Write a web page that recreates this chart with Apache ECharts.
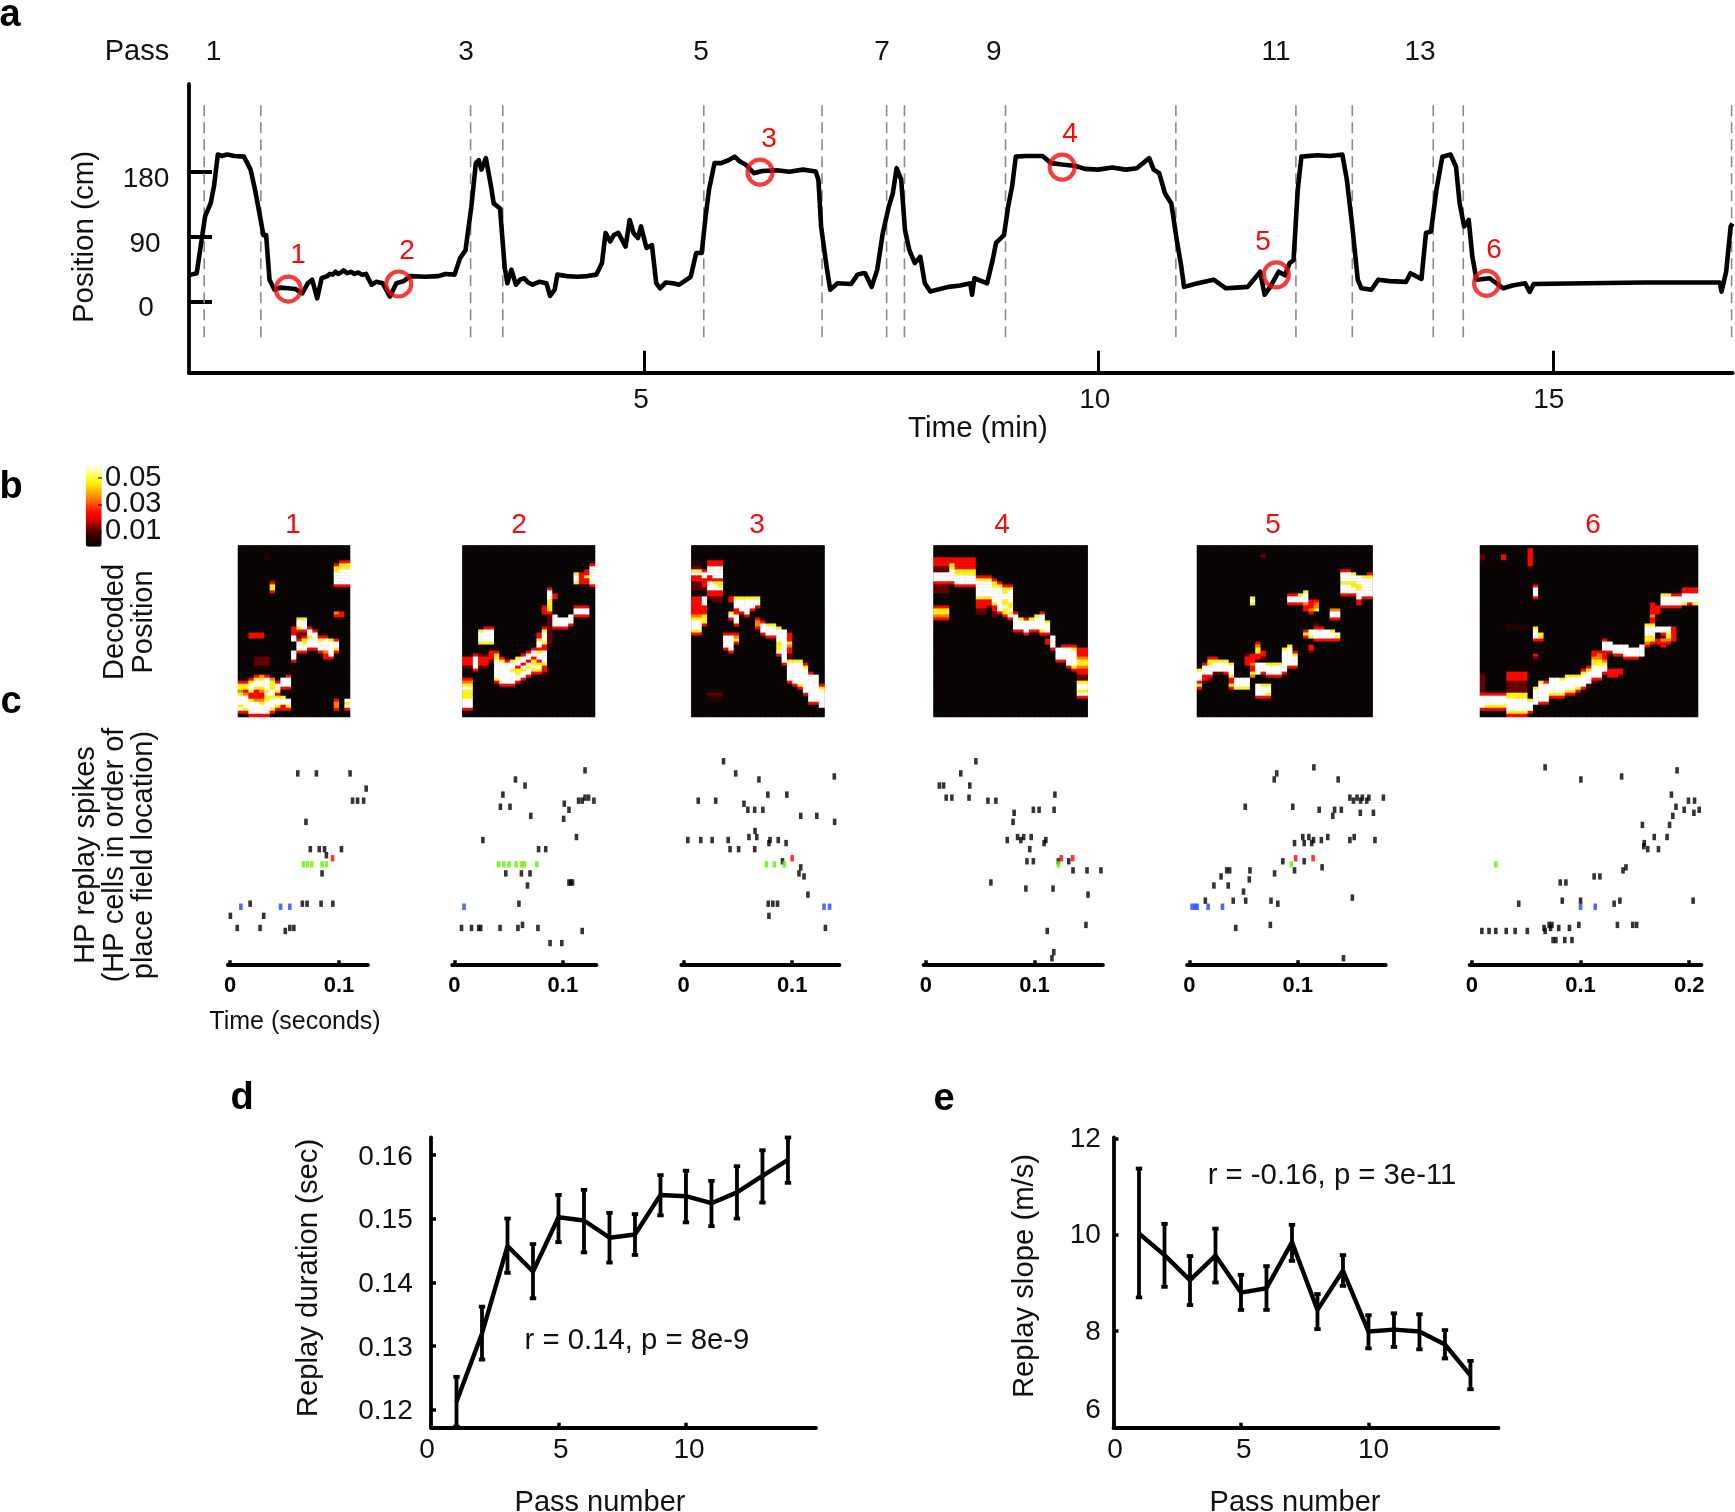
<!DOCTYPE html>
<html><head><meta charset="utf-8"><style>html,body{margin:0;background:#fff}#c{width:1735px;height:1512px}</style>
<script src="https://cdn.jsdelivr.net/npm/echarts@6/dist/echarts.min.js"></script></head><body><div id="c"></div>
<script>
// ---------- panel a data ----------
const positionTrace=[[0,36],[.024,37],[.085,39],[.128,76],[.177,118],[.238,136],[.275,160],[.317,204],[.36,202],[.42,204],[.5,202],[.604,201],[.677,183],[.726,155],[.775,122],[.818,92],[.848,92],[.885,30],[.94,16],[1.0,19],[1.09,18],[1.17,17],[1.245,11],[1.306,25],[1.354,30],[1.41,4],[1.458,32],[1.52,35],[1.55,38],[1.58,37],[1.61,41],[1.64,38],[1.67,40],[1.7,43],[1.74,39],[1.78,41],[1.82,38],[1.86,40],[1.9,37],[1.946,38],[2.007,23],[2.06,27],[2.13,25],[2.21,6.5],[2.28,25],[2.36,28],[2.434,35],[2.6,34],[2.74,35],[2.82,38],[2.92,37],[2.98,60],[3.04,71],[3.105,132],[3.154,192],[3.185,196],[3.215,183],[3.264,199],[3.32,160],[3.35,136],[3.42,129],[3.47,48],[3.5,25],[3.545,44],[3.594,23],[3.64,30],[3.685,32],[3.73,26],[3.777,23],[3.85,27],[3.93,25],[3.97,7.4],[4.02,16],[4.05,37],[4.15,35],[4.265,34],[4.38,35],[4.478,37],[4.54,53],[4.58,95],[4.63,83],[4.67,92],[4.72,95],[4.8,76],[4.845,113],[4.887,95],[4.936,88],[4.97,104],[5.03,74],[5.09,78],[5.137,25],[5.18,18],[5.24,26],[5.32,25],[5.39,23],[5.516,34],[5.576,67],[5.637,67],[5.68,118],[5.717,155],[5.778,192],[5.85,192],[5.93,196],[6.0,201],[6.06,194],[6.12,190],[6.21,178],[6.3,181],[6.46,182],[6.6,180],[6.75,183],[6.89,180.5],[6.92,169],[6.95,104],[7.01,48],[7.05,16],[7.13,25],[7.28,24],[7.35,37],[7.41,39],[7.433,39],[7.506,20],[7.567,44],[7.628,95],[7.695,132],[7.738,150],[7.78,185],[7.83,169],[7.872,99],[7.92,71],[7.98,53],[8.04,62],[8.09,25],[8.15,13.5],[8.35,20],[8.48,22],[8.59,25],[8.61,9],[8.635,32],[8.775,25],[8.836,57.5],[8.873,81],[8.96,92],[9.007,132],[9.05,160],[9.09,201],[9.2,202],[9.385,202],[9.477,192],[9.6,190],[9.75,188],[9.85,184],[9.996,183],[10.15,186],[10.3,183],[10.42,185],[10.557,199],[10.606,183],[10.667,178],[10.73,150],[10.8,136],[10.86,85],[10.91,48],[10.94,20],[11.09,25],[11.265,30],[11.4,18],[11.52,19],[11.64,20],[11.777,41],[11.826,9],[11.887,20],[11.98,41],[12.05,36],[12.1,53],[12.144,57],[12.19,155],[12.23,201],[12.4,203],[12.55,202],[12.68,204],[12.73,169],[12.79,104],[12.85,30],[12.89,18],[13.0,16],[13.077,30],[13.2,28],[13.38,27],[13.43,39],[13.55,31],[13.6,95],[13.655,97],[13.715,155],[13.78,201],[13.87,204],[13.93,187],[13.97,136],[14.02,104],[14.07,113],[14.11,62],[14.155,30],[14.3,32],[14.45,18],[14.55,22],[14.69,25],[14.74,13],[14.785,24],[15.365,25],[16,26],[16.83,26],[16.85,13.5],[16.9,41],[16.95,104],[16.97,108]];
const passBoundaries=[.167,.79,3.096,3.45,5.66,6.96,7.67,7.866,8.977,10.85,12.17,12.79,13.68,14.01,16.96];
const eventMarks=[[1.092,17],[2.306,24],[6.278,179.6],[9.6,186.5],[11.954,36.7],[14.266,25]];
const passLabels=['1','3','5','7','9','11','13'];
const eventLabels=['1','2','3','4','5','6'];
const posTicks=[0,90,180];
const timeTicks=[5,10,15];
// ---------- panel b: decoded position, runs of [column, first row, levels] ----------
const heat1=[[5,3,'kk'],[6,12,'ryyr'],[2,29,'rr'],[3,29,'rr'],[4,29,'rr'],[3,37,'dddk'],[4,37,'dddk'],[5,37,'dddk'],
[0,45,'ryyoywwwywr'],[1,45,'ryyrowwwwyr'],[2,44,'rywwyrrywwwwr'],[3,43,'rywwyrrrowwwwr'],[4,43,'oywwyorroywwwr'],[5,43,'rwwwwywyywwwwr'],[6,44,'oyyywwywwwyr'],[7,45,'rwwyrywwyr'],[8,44,'wwwr..ywwrr'],[9,43,'rwwwr...wwyr'],
[10,27,'rrrww...wwwr'],[11,24,'ywwyrddrwwwr'],[12,24,'ywwwrdryywwr'],[13,27,'rwwywwwr'],[14,28,'rwwwwwr'],[15,30,'rywwwr'],[16,30,'rwwwwww'],[16,35,'orr'],[17,31,'ywwwwwr'],[18,31,'rwwyr'],
[18,6,'ryywwwwr'],[19,5,'ryywwwwwr'],[20,5,'ryywwwwwr'],[18,22,'or'],[19,22,'rr'],[18,51,'roor'],[20,51,'wywr']];
const heat2=[[0,37,'rrrd'],[1,37,'rrrd'],[0,44,'roywyyywwwr'],[1,44,'roywyyywwwr'],[2,36,'rwwwwr'],[3,36,'drrrd'],[3,28,'ywwwy'],[4,27,'rwwwwy'],[4,36,'drrrd'],[5,27,'rwwwwy'],[5,35,'rrrd'],[6,35,'ryywwwwwwyr'],[7,37,'rywwwwwwwr'],[8,38,'rwwwwwwwr'],[9,38,'ywwywwwwr'],[10,37,'ywwryywwr'],[11,36,'rwwrwywwr'],[12,35,'rwwrwywwr'],[13,34,'rwwryywyr'],[14,29,'rrywwr'],[14,35,'ywwrywyr'],[15,20,'rrr'],[15,27,'rywwwyrrwwwwyrrd'],[16,14,'rwwwyyyyr'],[16,23,'ddddddddddk'],[17,16,'rr'],[17,23,'wwwwr'],[18,24,'wwwr'],[19,24,'wwwr'],[20,23,'wwwr'],[21,20,'rwwr'],[21,9,'ywwy'],[22,20,'rwwr'],[22,9,'rrrr'],[23,20,'rwwr'],[23,8,'rryrr'],[24,6,'rwwwwwwr']];
const heat3=[[0,5,'kkd'],[0,8,'ywrrddd'],[0,17,'rrrrrroywwwyr'],[1,5,'kkd'],[1,8,'ywrrddd'],[1,17,'rrrrrroywwwyr'],[2,8,'rwwrrrd'],[2,17,'wwwrrr'],[2,23,'yyyr'],[3,5,'rrwwwrrwwwrrd'],[4,5,'rrwwwwrywwrrdd'],[5,5,'rrwwwwryywrrdd'],[6,29,'rwwwwr'],[7,17,'rr'],[7,22,'ywr'],[7,29,'rwwwwwr'],[8,17,'ywwwrrwwwr'],[8,29,'royr'],[9,17,'ywwwwr'],[10,17,'ywwwwwr'],[11,17,'ywwwr'],[12,17,'ywwr'],[12,24,'roor'],[13,25,'rwwwr'],[14,26,'ywwwr'],[15,26,'ywwwr'],[16,27,'ywwwwyyywr'],[17,28,'wwwwwwwwwwwr'],[18,29,'rrryorrddd'],[18,38,'ywwwwwwr'],[19,38,'ywwwwwwwr'],[20,38,'ywwwwwwwyr'],[21,39,'rywwwwwwwwr'],[22,42,'rwwwwwwwwwr'],[23,43,'wwwwwwwwwr'],[24,46,'rywwwwww'],[3,48,'kdkk'],[4,48,'kdkk'],[5,48,'kdkk']];
const heat4=[[0,4,'rrrddwwwrddd'],[1,4,'rrrddwwwrddd'],[2,4,'rrrddwwwrddd'],[0,20,'ryyor'],[1,20,'ryyor'],[2,20,'ryyor'],[3,4,'rryywwwwr'],[4,4,'rrrryywwwr'],[5,4,'rrrryywwwr'],[6,4,'rrrryywwwr'],[7,4,'rrrryywwwr'],[8,10,'rywwwwwyrrd'],[8,18,'rrrdd'],[9,10,'rywwwwwyrrd'],[9,18,'rrrdd'],[10,10,'rywwwwwyrrd'],[11,11,'ryywwwwwyrrdd'],[12,12,'rywwwwwwwwr'],[13,13,'ryywwyywyyr'],[14,13,'rywwwwyywywr'],[15,22,'rwwwwwr'],[16,24,'ywwwr'],[17,24,'rwwwwr'],[18,24,'ywwwr'],[19,23,'ywwwwr'],[20,22,'rwwwwwyr'],[21,25,'ywwwr'],[21,31,'rr'],[22,30,'wwwwr'],[23,34,'wwwwr'],[24,33,'rwwwwr'],[25,33,'rwwwwwwr'],[26,33,'rywwwwwyr'],[27,34,'rrroyyorrdd'],[27,45,'ywwywr'],[28,34,'rrroyyorrdd'],[28,45,'ywwywr']];
const heat5=[[12,3,'dk'],[0,41,'ywwwryr'],[1,39,'rwwwrrd'],[2,37,'ryywwwrd'],[3,37,'rywwwd'],[4,38,'ywwwd'],[5,38,'ywwwr'],[6,39,'ywwwy'],[6,44,'rryr'],[7,44,'wwwy'],[8,44,'wwwy'],[9,44,'wwwy'],[9,36,'drrr'],[10,36,'rrrorryo'],[10,17,'ywy'],[11,32,'royyrr'],[11,39,'wwww'],[11,46,'wwwwr'],[12,35,'rrd'],[12,39,'wwwr'],[12,46,'ywwwr'],[13,39,'ywwwr'],[13,46,'ywwyr'],[14,39,'ywwwr'],[15,39,'ywwwr'],[16,34,'ywwwwwwwr'],[17,33,'ywwwwwwr'],[18,35,'rywwwr'],[17,16,'rwwr'],[18,16,'rwwr'],[19,16,'ywwr'],[20,15,'ywwwr'],[20,19,'orr'],[21,18,'rrror'],[22,18,'rooy'],[20,28,'ryr'],[21,28,'wwy'],[22,27,'rwwwr'],[23,27,'rwwwr'],[24,28,'wwwr'],[25,28,'ywwr'],[26,29,'wyr'],[21,33,'rrd'],[22,25,'kd'],[25,21,'owwr'],[26,21,'owwr'],[27,8,'rwwwywwwrk'],[28,8,'rwwwywwwrk'],[29,9,'ywwyywwr'],[30,10,'wwwyywwwrr'],[31,10,'ywwwwwwr'],[32,9,'rywwwwwwr']];
const heat6=[[0,3,'ddk'],[0,42,'kdddddd'],[0,49,'rwwwwr'],[1,49,'rwwwyr'],[2,49,'rwwwyr'],[3,49,'rwwwyr'],[4,3,'rr'],[4,49,'rwwwyr'],[5,26,'kk'],[5,42,'rrrddddyywwwwyr'],[6,26,'kk'],[6,42,'rrrddddyywwwwyr'],[7,26,'kk'],[7,42,'rrrddddyywwwwyr'],[8,26,'kk'],[8,42,'rrrddddyywwwwyr'],[9,1,'rrrrrrk'],[9,51,'ywwwr'],[10,13,'rwwwr'],[10,27,'ywwwr'],[10,36,'rd'],[10,47,'ywwwww'],[11,29,'yyr'],[11,45,'ywwwwwwr'],[12,45,'rwwwwwwr'],[13,44,'wwwwwyr'],[14,44,'wwwwwyr'],[15,44,'ywwwwyr'],[16,43,'ywwwwyr'],[17,43,'ywwwwyr'],[18,43,'ywwwyr'],[19,41,'rywwwwr'],[20,40,'rywwwwdk'],[21,35,'rroyywwwwrd'],[22,35,'rooyywwwwr'],[23,31,'rwwwrrroywwr'],[24,32,'wwwr'],[24,41,'rrr'],[25,33,'wwwr'],[25,41,'rrr'],[26,33,'wwwr'],[26,41,'rrd'],[27,33,'wwwwr'],[28,34,'wwwr'],[29,34,'wwwr'],[30,33,'wwww'],[31,26,'ywwwyyor'],[32,19,'rrrrorrd'],[32,26,'ywwwyyr'],[33,20,'rrr'],[33,27,'ww..rr'],[34,16,'ywwwr'],[34,27,'wwrdorr'],[35,16,'ywwwr'],[35,27,'wwyyor'],[36,16,'rwwwr'],[36,27,'rrrrr'],[37,16,'rwwwr'],[38,14,'rrwwwy'],[39,14,'rrwwwr'],[40,14,'rrwwwy']];
const levelValues={k:.006,d:.012,r:.024,o:.035,y:.047,w:.06};
const colourTicks=['0.05','0.03','0.01'];
// ---------- panel c: spikes as [seconds, cell] ----------
const r1Black=[[.0622,63],[.0793,63],[.1102,63],[.125,58],[.1125,54],[.1171,54],[.1227,54],[.0697,47],[.0737,38],[.0819,38],[.0868,38],[.1023,38],[.0885,36],[.0845,30],[.0664,20],[.0707,20],[.0836,20],[.0944,20],[.0184,20],[.0003,16],[.0309,16],[.0066,12],[.0276,12],[.0549,12],[.0586,12],[.0507,11]];
const r1Green=[[.0674,33],[.0711,33],[.075,33],[.0845,33],[.0885,33]];
const r1Red=[[.0941,35]];
const r1Blue=[[.0099,19],[.0464,19],[.0549,19]];
const r2Black=[[.1204,64],[.0563,61],[.0651,59],[.0447,56],[.0424,52],[.0513,52],[.0704,49],[.1013,53],[.1056,51],[.1007,48],[.1145,54],[.1178,54],[.1204,55],[.1237,55],[.1286,54],[.0263,41],[.1125,42],[.0776,38],[.0842,38],[.0474,30],[.0618,30],[.0697,30],[.0674,26],[.1056,27],[.1072,27],[.1089,27],[.0595,20],[.0066,12],[.0158,12],[.0224,12],[.0243,12],[.0421,12],[.0586,12],[.0628,13],[.077,12],[.1178,11],[.0882,7],[.099,7]];
const r2Green=[[.0408,33],[.0457,33],[.0503,33],[.0569,33],[.0622,33],[.0645,33],[.076,33]];
const r2Red=[];
const r2Blue=[[.0089,19]];
const r3Black=[[.0368,67],[.048,63],[.0694,61],[.1388,62],[.0776,56],[.0951,56],[.0135,54],[.0296,54],[.0556,53],[.0592,51],[.0655,51],[.073,51],[.1079,49],[.1227,49],[.1391,47],[.0658,44],[.0674,42],[.0602,42],[.0039,41],[.0158,41],[.0263,41],[.0411,41],[.0796,41],[.0786,40],[.0872,41],[.0944,40],[.0428,38],[.0507,38],[.0655,38],[.0911,34],[.1079,32],[.1063,30],[.1109,29],[.1145,23],[.078,20],[.0822,20],[.0865,20],[.0786,16],[.1306,12]];
const r3Green=[[.0763,33],[.0836,33],[.0928,33]];
const r3Red=[[.1,35]];
const r3Blue=[[.1293,19],[.1345,19]];
const r4Black=[[.0461,67],[.0322,63],[.0125,59],[.0164,59],[.0405,59],[.0188,55],[.024,55],[.0398,55],[.0572,54],[.0645,54],[.1188,56],[.099,51],[.1043,51],[.1181,51],[.0813,50],[.0803,47],[.075,41],[.0845,42],[.0901,42],[.0875,41],[.097,42],[.1105,41],[.1089,40],[.0957,38],[.0931,34],[.099,34],[.122,34],[.1316,34],[.1355,31],[.1484,31],[.1612,31],[.0599,27],[.0921,25],[.1171,25],[.1493,23],[.1474,13],[.1118,11],[.1178,4],[.1161,2]];
const r4Green=[[.122,33]];
const r4Red=[[.1247,35],[.1352,35]];
const r4Blue=[];
const r5Black=[[.1148,65],[.0806,63],[.0783,61],[.1372,61],[.148,55],[.1513,54],[.1546,55],[.1579,54],[.1595,55],[.1635,54],[.1655,55],[.1789,55],[.0516,52],[.0954,52],[.1197,51],[.1339,51],[.1401,51],[.1322,49],[.1576,50],[.1697,50],[.1046,42],[.1102,42],[.1145,41],[.1217,41],[.1276,42],[.148,41],[.152,42],[.1711,41],[.097,40],[.1059,40],[.1128,40],[.0862,34],[.1059,34],[.1224,32],[.0345,31],[.0372,31],[.0559,31],[.097,31],[.0786,30],[.0293,29],[.0553,28],[.0227,26],[.0359,26],[.05,24],[.0148,21],[.0405,21],[.052,21],[.0753,21],[.0816,20],[.1503,22],[.0428,12],[.0747,13],[.1421,2]];
const r5Green=[[.0941,33]];
const r5Red=[[.098,35],[.1141,35]];
const r5Blue=[[.0026,19],[.0053,19],[.0072,19],[.0174,19],[.0306,19]];
const r6Black=[[.0674,65],[.1003,61],[.1378,62],[.1888,64],[.1836,56],[.1993,54],[.2049,54],[.1878,52],[.1954,51],[.2092,51],[.2043,50],[.1849,49],[.1819,46],[.1569,46],[.1678,42],[.1796,42],[.1586,40],[.1582,39],[.1618,38],[.1717,38],[.1418,32],[.1391,31],[.1125,29],[.1178,29],[.0813,27],[.0865,27],[.0832,21],[.1,21],[.1362,21],[.1309,20],[.0431,20],[.2036,21],[.0984,13],[.1339,13],[.148,13],[.1516,13],[.0711,13],[.0737,13],[.0724,12],[.0664,12],[.0799,12],[.0898,12],[.0674,11],[.0092,11],[.0158,11],[.022,11],[.0316,11],[.0398,11],[.051,11],[.0747,8],[.0773,8],[.0855,8],[.0921,8]];
const r6Green=[[.022,33]];
const r6Red=[];
const r6Blue=[[.1,19],[.1135,19]];
// ---------- panels d, e ----------
const passNumbers=[1,2,3,4,5,6,7,8,9,10,11,12,13,14];
const durationMean=[.1213,.132,.1457,.1417,.1502,.1497,.147,.1475,.1537,.1535,.1524,.1541,.1567,.1592];
const durationHigh=[.1252,.1362,.15,.146,.1537,.1545,.1509,.1507,.1568,.1575,.1559,.1582,.1607,.1627];
const durationLow=[.1174,.1279,.1415,.1375,.1463,.1447,.1431,.1443,.1505,.1494,.1488,.15,.1525,.1556];
const slopeMean=[10.03,9.58,9.06,9.57,8.8,8.89,9.85,8.44,9.26,7.99,8.03,7.99,7.72,7.08];
const slopeHigh=[11.38,10.23,9.56,10.13,9.17,9.35,10.21,8.77,9.58,8.33,8.37,8.35,8.02,7.38];
const slopeLow=[8.7,8.92,8.54,9.01,8.44,8.44,9.46,8.04,8.94,7.64,7.67,7.62,7.43,6.79];
const durationTicks=[.12,.13,.14,.15,.16];
const slopeTicks=[8,10,12];
const passTicks=[0,5,10];

// ---------- layout ----------
const FONT='"Liberation Sans"', INK='#111', RED='#f40c0c';
const grids=[],xAxes=[],yAxes=[],series=[],graphics=[];
function T(text,x,y,size,o={}){graphics.push({type:'text',x:o.rot?x+1:x,y:o.rot?y:y+2,rotation:o.rot||0,silent:true,z:50,style:{text:String(text),fill:o.color||INK,align:o.align||'center',verticalAlign:'middle',font:(o.bold?'bold ':'')+size+'px '+FONT}});}
function addGrid(left,top,width,height,xa,ya,bg){grids.push(bg?{left,top,width,height,containLabel:false,show:true,backgroundColor:bg,borderWidth:0}:{left,top,width,height,containLabel:false,show:false});const i=grids.length-1;xAxes.push(Object.assign({gridIndex:i,splitLine:{show:false},animation:false},xa));yAxes.push(Object.assign({gridIndex:i,splitLine:{show:false},animation:false},ya));return i;}
function valAxis(min,max,ticks,o){return {type:'value',min,max,position:o.pos,axisLine:{show:true,onZero:false,lineStyle:{color:'#000',width:o.w||3.8}},
 axisTick:{show:true,inside:true,length:o.len,customValues:ticks,lineStyle:{color:'#000',width:o.tw||3.5}},
 axisLabel:o.size?{show:true,customValues:ticks,margin:o.margin,color:'#000',fontFamily:FONT,fontSize:o.size,fontWeight:'bold',formatter:o.fmt}:{show:false}};}

// panel a
const ga=addGrid(189,84,1543.5,288.7,valAxis(0,16.97,timeTicks,{pos:'bottom',len:22,w:4.2,tw:3}),valAxis(-99.3,302,posTicks,{pos:'left',len:23,tw:4}));
passBoundaries.forEach(t=>series.push({type:'line',xAxisIndex:ga,yAxisIndex:ga,showSymbol:false,silent:true,z:1,data:[[t,-50],[t,278]],lineStyle:{color:'#8a8a8a',width:1.6,type:[11,6]}}));
series.push({type:'line',xAxisIndex:ga,yAxisIndex:ga,showSymbol:false,silent:true,z:3,data:positionTrace,lineStyle:{color:'#000',width:4.6,join:'round'}});
series.push({type:'scatter',xAxisIndex:ga,yAxisIndex:ga,silent:true,z:5,symbol:'circle',symbolSize:25,data:eventMarks,itemStyle:{color:'rgba(0,0,0,0)',borderColor:RED,borderWidth:4.2}});
T('Pass',137,50,29);
[213.6,466,701,882,993.7,1276,1420].forEach((x,i)=>T(passLabels[i],x,50,28));
[[298,253],[407,249],[769,137],[1070,132],[1263,240],[1494,248]].forEach((p,i)=>T(eventLabels[i],p[0],p[1],28,{color:RED}));
[[146,306],[145,242],[146,177]].forEach((p,i)=>T(posTicks[i],p[0],p[1],28));
[641,1094.7,1548.7].forEach((x,i)=>T(timeTicks[i],x,398,28));
T('Time (min)',978,427,29.5);
T('Position (cm)',84,237,29.5,{rot:Math.PI/2});

// panel b heatmaps
function cells(list,nCols,nRows){const m=[];for(let c=0;c<nCols;c++){m.push(new Array(nRows).fill(.001));}
 list.forEach(([c,r,s])=>{[...s].forEach((ch,i)=>{if(levelValues[ch]&&r+i<nRows&&c<nCols)m[c][r+i]=levelValues[ch];});});
 const out=[];m.forEach((col,c)=>col.forEach((v,r)=>out.push([c,r,v])));return out;}
const heatSeries=[];
const seq=n=>Array.from({length:n},(_,i)=>i);
[[heat1,21,238,112],[heat2,25,462.5,132.5],[heat3,25,691.4,133],[heat4,29,933.6,154],[heat5,33,1197,175.5],[heat6,41,1480,218]].forEach(([h,nC,l,w],k)=>{
 const nR=57;
 const i=addGrid(l,545.5,w,171.5,{type:'category',show:false,data:seq(nC)},{type:'category',show:false,inverse:true,data:seq(nR)},'#070707');
 heatSeries.push(series.length);
 series.push({type:'heatmap',xAxisIndex:i,yAxisIndex:i,silent:true,progressive:0,data:cells(h,nC,nR),emphasis:{disabled:true}});
 T(String(k+1),[293,519,757,1002,1273,1593][k],523,28,{color:RED});
});
const colourStops=['#060606','#1c0303','#450000','#900000','#e00000','#ff0a00','#ff4000','#ff8000','#ffb000','#ffe800','#ffff30','#ffffa0','#ffffff'];
[476,502,529].forEach((y,i)=>T(colourTicks[i],105,y,29,{align:'left'}));
[478,505,532].forEach(y=>graphics.push({type:'line',silent:true,z:40,shape:{x1:98,y1:y,x2:102,y2:y},style:{stroke:'#000',lineWidth:1}}));
T('Decoded',113.5,622,29,{rot:Math.PI/2});
T('Position',142.5,622,29,{rot:Math.PI/2});

// panel c rasters
const rasterFmt=v=>v===0?'0':v.toFixed(1);
[[r1Black,r1Green,r1Red,r1Blue,227.9,367.9,-.002,.1266,[0,.1]],
 [r2Black,r2Green,r2Red,r2Blue,452.2,596.4,-.002,.1309,[0,.1]],
 [r3Black,r3Green,r3Red,r3Blue,681.4,839.3,-.002,.1434,[0,.1]],
 [r4Black,r4Green,r4Red,r4Blue,923.6,1102.9,-.002,.163,[0,.1]],
 [r5Black,r5Green,r5Red,r5Blue,1187.1,1385.7,-.002,.181,[0,.1]],
 [r6Black,r6Green,r6Red,r6Blue,1469.7,1701.4,-.002,.2112,[0,.1,.2]]].forEach(([b,g,r,bl,x0,x1,tmin,tmax,ticks])=>{
 const i=addGrid(x0,752.2,x1-x0,212.1,valAxis(tmin,tmax,ticks,{pos:'bottom',len:4,tw:3.5,size:22,margin:11,w:4,fmt:rasterFmt}),{type:'value',show:false,min:0,max:70});
 [[b,'#000'],[g,'#66f000'],[r,'#ff0000'],[bl,'#2244ff']].forEach(([d,color])=>{if(d.length)series.push({type:'scatter',xAxisIndex:i,yAxisIndex:i,silent:true,symbol:'rect',symbolSize:[3.6,6.4],data:d,itemStyle:{color}});});
});
T('Time (seconds)',295,1020,25);
T('HP replay spikes',85,855,29,{rot:Math.PI/2});
T('(HP cells in order of',114,855,29,{rot:Math.PI/2});
T('place field location)',143,855,29,{rot:Math.PI/2});

// panels d, e
function errRender(params,api){const x=api.value(0),a=api.coord([x,api.value(1)]),b=api.coord([x,api.value(2)]);
 const st={stroke:'#000',lineWidth:3.8};const c=3.2;
 return {type:'group',children:[{type:'line',shape:{x1:a[0],y1:a[1],x2:b[0],y2:b[1]},style:st},{type:'line',shape:{x1:a[0]-c,y1:a[1],x2:a[0]+c,y2:a[1]},style:st},{type:'line',shape:{x1:b[0]-c,y1:b[1],x2:b[0]+c,y2:b[1]},style:st}]};}
function panel(left,width,ymin,ymax,yTicks,mean,low,high){
 const i=addGrid(left,1137.3,width,290.4,valAxis(0,15.1,passTicks,{pos:'bottom',len:5}),valAxis(ymin,ymax,yTicks,{pos:'left',len:5}));
 series.push({type:'custom',xAxisIndex:i,yAxisIndex:i,silent:true,z:3,renderItem:errRender,encode:{x:0,y:[1,2]},data:passNumbers.map((p,k)=>[p,low[k],high[k]])});
 series.push({type:'line',xAxisIndex:i,yAxisIndex:i,silent:true,z:4,showSymbol:false,data:passNumbers.map((p,k)=>[p,mean[k]]),lineStyle:{color:'#000',width:4.4}});
}
panel(431,385,.11723,.16273,durationTicks,durationMean,durationLow,durationHigh);
panel(1113.5,385,5.99,12.03,slopeTicks,slopeMean,slopeLow,slopeHigh);
[1409,1346,1282,1218,1155].forEach((y,i)=>T(durationTicks[i].toFixed(2),412.7,y,28,{align:'right'}));
[[1330,8],[1233,10],[1137,12]].forEach(p=>T(p[1],1100.8,p[0],28,{align:'right'}));
T('6',1100.8,1408,28,{align:'right'});
[[427,0],[560.8,5],[689,10]].forEach(p=>T(p[1],p[0],1448,28));
[[1115,0],[1243.7,5],[1373.5,10]].forEach(p=>T(p[1],p[0],1448,28));
T('Pass number',600,1501,29);
T('Pass number',1295,1501,29);
T('Replay duration (sec)',308,1278,29.3,{rot:Math.PI/2});
T('Replay slope (m/s)',1024,1276,29.3,{rot:Math.PI/2});
T('r = 0.14, p = 8e-9',637,1339,29.3);
T('r = -0.16, p = 3e-11',1332,1174,29.3);
// panel letters
[['a',10,14],['b',11,486],['c',11,701],['d',242,1097],['e',944,1098]].forEach(p=>T(p[0],p[1],p[2],38,{bold:true,color:'#000'}));

const chart=echarts.init(document.getElementById('c'),null,{renderer:'canvas'});
chart.setOption({animation:false,backgroundColor:'#fff',textStyle:{fontFamily:FONT},grid:grids,xAxis:xAxes,yAxis:yAxes,series,graphic:graphics,
 visualMap:{type:'continuous',min:0,max:.06,seriesIndex:heatSeries,calculable:false,show:true,left:85.7,top:464,itemWidth:16,itemHeight:82.7,padding:0,text:null,showLabel:false,hoverLink:false,inRange:{color:colourStops}}});
</script></body></html>
